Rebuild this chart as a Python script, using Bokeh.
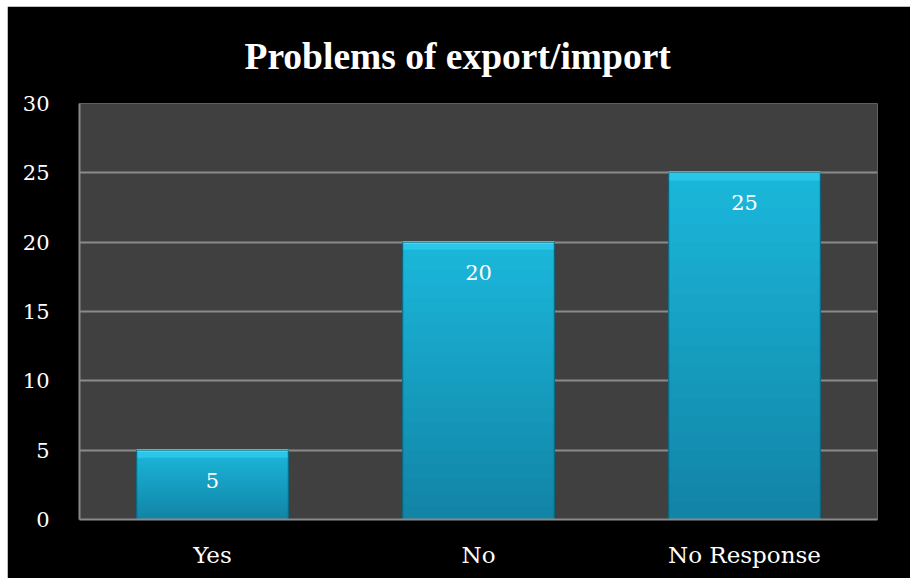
from bokeh.plotting import figure
from bokeh.models import FactorRange, Range1d, ColumnDataSource, FixedTicker
from bokeh.core.properties import value
from bokeh.embed import file_html
from bokeh.resources import INLINE

categories = ["Yes", "No", "No Response"]
counts = [5, 20, 25]
y_ticks = [0, 5, 10, 15, 20, 25, 30]

TITLE_FONT = "Liberation Serif"
SERIF = "DejaVu Serif"

p = figure(x_range=FactorRange(*categories, range_padding=0), y_range=Range1d(0, 30),
           width=903, height=572, output_backend="svg", toolbar_location=None,
           min_border_left=72, min_border_top=97, min_border_right=33, min_border_bottom=59)
p.margin = (6, 0, 0, 7)
p.background_fill_color = "#404040"
p.border_fill_color = "#000000"
p.outline_line_color = None

p.title.text = "Problems of export/import"
p.title.align = "left"
p.title.text_color = "white"
p.title.text_font = TITLE_FONT
p.title.text_font_style = "bold"
p.title.text_font_size = "37.5px"
p.title.offset = 165
p.title.standoff = 54

p.ygrid.grid_line_color = "#8a8a8a"
p.ygrid.grid_line_width = 2
p.xgrid.grid_line_color = None
p.yaxis.ticker = FixedTicker(ticks=y_ticks)

for ax in (p.xaxis[0], p.yaxis[0]):
    ax.axis_line_color = "#8a8a8a"
    ax.axis_line_width = 2
    ax.major_tick_line_color = None
    ax.minor_tick_line_color = None
    ax.major_label_text_color = "white"
    ax.major_label_text_font = SERIF
p.yaxis.major_label_text_font_size = "21px"
p.xaxis.major_label_text_font_size = "23px"
p.yaxis.major_label_standoff = 24
p.xaxis.major_label_standoff = 16

# gradient bar body: overlapping layers, darker towards the bottom
W = 0.57
N = 20
top_c = (0x1b, 0xb8, 0xdc)
bot_c = (0x12, 0x84, 0xa6)
for i in range(N - 1, -1, -1):
    t = (i + 0.5) / N
    c = tuple(int(bot_c[k] + (top_c[k] - bot_c[k]) * t) for k in range(3))
    col = "#%02x%02x%02x" % c
    p.vbar(x=categories, bottom=0,
           top=[v * (i + 1) / N for v in counts], width=W,
           fill_color=col, line_color=None)

# bevel highlights
src = ColumnDataSource(dict(x=categories, top=counts,
                            bevel=[v - 0.55 for v in counts],
                            label=[str(v) for v in counts]))
p.vbar(x="x", top="top", bottom="bevel", width=W, source=src,
       fill_color="#2ac6e8", line_color=None)
p.vbar(x="x", top="top", bottom="top", width=W, source=src, fill_color=None,
       line_color="#5aeefc", line_width=2.5)
p.vbar(x="x", top="top", bottom=0, width=W, source=src, fill_color=None,
       line_color="#0b5a70", line_width=1, line_alpha=0.9)

p.text(x="x", y="top", text="label", source=src, text_color="white",
       text_font=value(SERIF), text_font_size="21px", text_align="center",
       text_baseline="middle", y_offset=30)

open("out.html", "w").write(file_html(p, INLINE))
